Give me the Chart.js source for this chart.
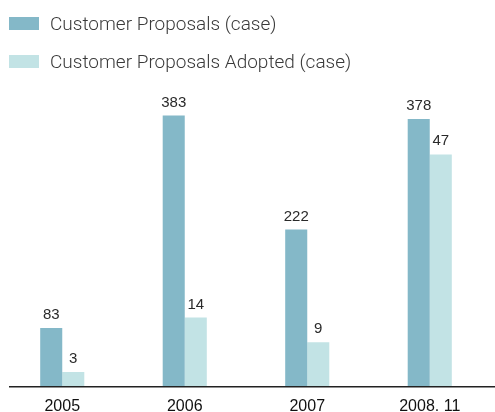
<!DOCTYPE html>
<html>
<head>
<meta charset="utf-8">
<script src="https://cdn.jsdelivr.net/npm/chart.js@4.4.0/dist/chart.umd.min.js"></script>
<style>
  html, body { margin: 0; padding: 0; background: #fff; }
  #wrap { position: relative; width: 495px; height: 412px; }
  #chart { position: absolute; left: 0; top: 0; }
  .key { position: absolute; left: 9px; height: 20px; display: flex; align-items: center;
         font-family: Roboto, "Liberation Sans", sans-serif; font-weight: 300;
         font-size: 19px; color: #3a3a3a; white-space: nowrap; }
  .swatch { width: 30px; height: 13px; margin-right: 11px; flex: none; }
</style>
</head>
<body>
<div id="wrap">
  <canvas id="chart" width="495" height="412"></canvas>
  <div class="key" style="top:13px"><span class="swatch" id="sw0"></span><span id="lb0"></span></div>
  <div class="key" style="top:51px"><span class="swatch" id="sw1"></span><span id="lb1"></span></div>
</div>
<script>
// Years shown on the category axis
const categories = ['2005', '2006', '2007', '2008. 11'];
// Number of customer proposals received per year
const proposals = [83, 383, 222, 378];
// Number of those proposals that were adopted
const adopted = [3, 14, 9, 47];
const seriesNames = ['Customer Proposals (case)', 'Customer Proposals Adopted (case)'];
const seriesColors = ['#84b8c8', '#c2e3e5'];

// Legend rows above the plot
seriesNames.forEach((n, i) => {
  document.getElementById('lb' + i).textContent = n;
  document.getElementById('sw' + i).style.background = seriesColors[i];
});

const sansFamily = 'Arial, "Liberation Sans", sans-serif';

// Value labels printed above every bar
const valueLabels = {
  id: 'valueLabels',
  afterDatasetsDraw(chart) {
    const ctx = chart.ctx;
    ctx.save();
    ctx.font = '15px ' + sansFamily;
    ctx.fillStyle = '#2a2a2a';
    ctx.textAlign = 'center';
    ctx.textBaseline = 'alphabetic';
    chart.data.datasets.forEach((ds, di) => {
      chart.getDatasetMeta(di).data.forEach((bar, i) => {
        ctx.fillText(String(ds.data[i]), bar.x, bar.y - 9);
      });
    });
    ctx.restore();
  }
};

// Baseline under the bars
const baseline = {
  id: 'baseline',
  afterDatasetsDraw(chart) {
    const ctx = chart.ctx;
    const y = chart.chartArea.bottom;
    ctx.save();
    ctx.strokeStyle = '#222';
    ctx.lineWidth = 1.5;
    ctx.beginPath();
    ctx.moveTo(9, y);
    ctx.lineTo(chart.width, y);
    ctx.stroke();
    ctx.restore();
  }
};

new Chart(document.getElementById('chart'), {
  type: 'bar',
  data: {
    labels: categories,
    datasets: [
      { label: seriesNames[0], data: proposals, backgroundColor: seriesColors[0], yAxisID: 'y' },
      { label: seriesNames[1], data: adopted, backgroundColor: seriesColors[1], yAxisID: 'y2' }
    ]
  },
  options: {
    responsive: false,
    animation: false,
    layout: { padding: { left: 1, right: 4, top: 100, bottom: -14 } },
    datasets: { bar: { categoryPercentage: 0.36, barPercentage: 1.0 } },
    plugins: { legend: { display: false }, tooltip: { enabled: false } },
    scales: {
      x: {
        grid: { display: false, drawTicks: false },
        border: { display: false },
        ticks: { color: '#111', padding: 10, font: { family: sansFamily, size: 16 } }
      },
      y: { display: false, min: 0, max: 405 },
      y2: { display: false, min: 0, max: 58 }
    }
  },
  plugins: [valueLabels, baseline]
});
</script>
</body>
</html>
